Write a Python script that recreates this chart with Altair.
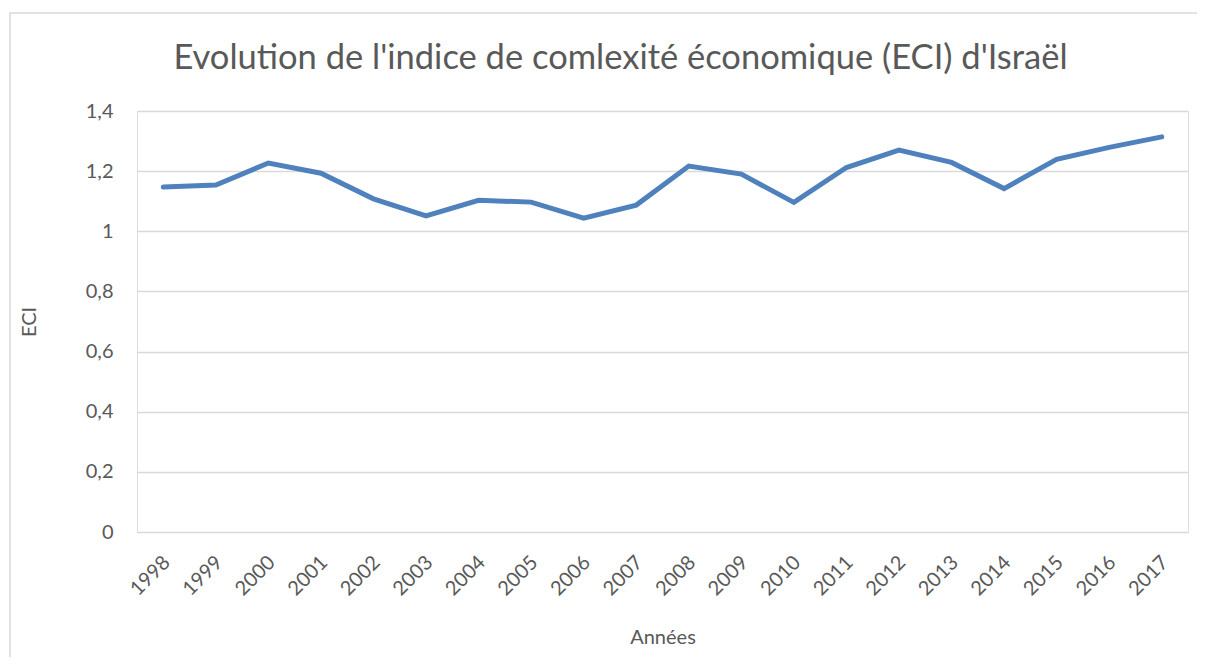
import altair as alt
import pandas as pd

years = [str(y) for y in range(1998, 2018)]
eci = [1.147, 1.154, 1.227, 1.193, 1.108, 1.051, 1.103, 1.097, 1.044, 1.087,
       1.217, 1.190, 1.096, 1.212, 1.270, 1.229, 1.142, 1.239, 1.279, 1.314]
y_ticks = [0, 0.2, 0.4, 0.6, 0.8, 1.0, 1.2, 1.4]

df = pd.DataFrame({"Année": years, "ECI": eci})

FONT = "Lato"
GREY = "#595959"

frame = alt.Chart(pd.DataFrame({"a": [0]})).mark_rect(
    fillOpacity=0, stroke="#d9d9d9", strokeWidth=1.5
).encode(
    x=alt.value(-127), x2=alt.value(1066), y=alt.value(-98), y2=alt.value(570)
)

line = alt.Chart(df).mark_line(color="#4F81BD", strokeWidth=5, strokeCap="round").encode(
    x=alt.X("Année:O", sort=years,
            scale=alt.Scale(type="point", padding=0.5),
            axis=alt.Axis(title="Années", labelAngle=-45, labelAlign="right",
                          labelBaseline="top", labelPadding=20, labelOffset=-4,
                          labelFontSize=20, titleFontSize=20, titlePadding=29,
                          labelColor=GREY, titleColor=GREY, titleFontWeight="normal",
                          ticks=False, domain=False, grid=False,
                          labelFont=FONT, titleFont=FONT)),
    y=alt.Y("ECI:Q", scale=alt.Scale(domain=[0, 1.4], nice=False),
            axis=alt.Axis(title="ECI", values=y_ticks,
                          labelExpr="replace(format(datum.value, '.1~f'), '.', ',')",
                          labelFontSize=20, titleFontSize=20, labelPadding=24,
                          titlePadding=46,
                          labelColor=GREY, titleColor=GREY, titleFontWeight="normal",
                          ticks=False, domain=False, grid=True,
                          gridColor="#d9d9d9", gridWidth=1.5,
                          labelFont=FONT, titleFont=FONT)),
)

chart = alt.layer(frame, line).properties(
    width=1051, height=421,
    title=alt.TitleParams("Evolution de l'indice de comlexité économique (ECI) d'Israël",
                          fontSize=34.5, font=FONT, color=GREY, fontWeight="normal",
                          anchor="middle", dx=-42, offset=-64),
    padding={"left": 129, "top": 103, "right": 9, "bottom": 125},
    autosize=alt.AutoSizeParams(type="none"),
).configure_view(stroke=None).configure(background="white")

chart.save("out.html", embed_options={"renderer": "svg", "actions": False})
